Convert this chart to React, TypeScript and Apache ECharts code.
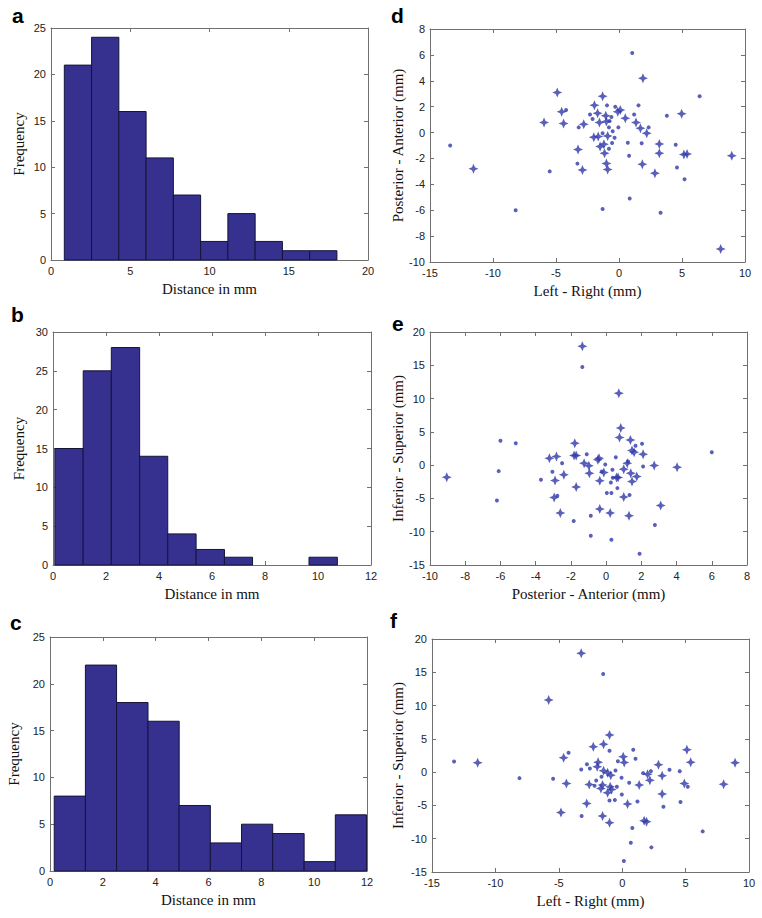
import React, { useEffect, useRef } from "react";
import * as echarts from "echarts";

// ---------- Histogram data ----------
const histA_edges = [0.84, 2.56, 4.28, 6.0, 7.72, 9.44, 11.16, 12.88, 14.6, 16.32, 18.04];
const histA_counts = [21, 24, 16, 11, 7, 2, 5, 2, 1, 1];

const histB_edges = [0.07, 1.14, 2.2, 3.27, 4.33, 5.4, 6.47, 7.53, 8.6, 9.66, 10.73];
const histB_counts = [15, 25, 28, 14, 4, 2, 1, 0, 0, 1];

const histC_edges = [0.16, 1.34, 2.52, 3.71, 4.89, 6.07, 7.25, 8.43, 9.62, 10.8, 11.98];
const histC_counts = [8, 22, 18, 16, 7, 3, 5, 4, 1, 6];

// ---------- Scatter data ----------
// d: Left - Right (x) vs Posterior - Anterior (y)
const scatD_stars = [
  [-4.9, 3.1], [-1.3, 2.8], [1.9, 4.2], [-5.95, 0.78], [-4.55, 1.6], [-4.4, 0.7],
  [-1.95, 2.1], [-1.7, 1.5], [-1.05, 1.3], [-1.55, 0.78], [-1.0, 0.85], [-0.1, 1.6],
  [0.1, 1.75], [0.5, 1.1], [1.35, 0.78], [1.7, 0.34], [2.2, -0.05], [-0.9, -0.26],
  [-2.0, -0.36], [-1.65, -0.3], [-1.5, -1.08], [-1.2, -0.9], [-1.15, -1.6], [-3.25, -1.3],
  [-1.0, -2.4], [-0.9, -2.85], [-2.9, -2.9], [-11.55, -2.8], [3.2, -0.88], [3.2, -1.6],
  [1.85, -2.45], [2.85, -3.15], [4.97, 1.45], [5.15, -1.7], [5.4, -1.65], [8.95, -1.8],
  [8.07, -9.0], [-2.8, 0.65],
];
const scatD_dots = [
  [-13.4, -1.0], [-8.2, -6.0], [-5.5, -3.0], [-3.3, -2.4], [-3.2, 0.4], [-4.2, 1.75],
  [-2.3, 1.4], [-2.1, 1.05], [-0.95, 2.1], [-0.3, 2.0], [-0.6, 1.2], [-0.8, 0.4],
  [-0.5, 0.1], [-0.35, -0.4], [-0.55, -0.8], [-0.8, -1.25], [-0.05, 0.4], [0.7, -0.78],
  [1.55, 2.1], [1.2, 1.4], [2.35, 0.4], [1.8, -0.83], [0.8, -1.8], [1.05, 6.15],
  [3.8, 1.3], [6.4, 2.8], [4.5, -0.95], [4.6, -2.7], [5.2, -3.6], [0.85, -5.1],
  [-1.3, -5.9], [3.3, -6.2], [-1.3, -0.05], [-0.75, 0.9],
];

// e: Posterior - Anterior (x) vs Inferior - Superior (y)
const scatE_stars = [
  [-1.35, 17.85], [0.72, 10.8], [0.83, 5.57], [0.76, 4.16], [1.38, 3.76], [-1.78, 3.3],
  [-9.05, -1.8], [-3.22, 1.05], [-2.82, 1.3], [-1.82, 1.45], [-1.7, 1.45], [-1.25, 0.3],
  [-0.98, -0.1], [-0.95, -1.2], [-0.47, 0.8], [-0.4, 1.05], [-2.9, -2.3], [-2.4, -1.45],
  [-2.95, -4.85], [-2.6, -7.2], [-1.7, -3.3], [-0.36, -2.35], [-0.13, -1.1], [-0.36, -6.6],
  [0.23, -7.2], [0.59, -1.85], [0.68, -1.85], [1.0, -0.6], [1.2, 0.3], [1.47, 2.2],
  [1.59, 1.95], [2.1, 1.65], [1.4, -1.2], [1.47, -2.45], [1.74, -1.7], [1.0, -4.8],
  [1.3, -7.6], [2.73, -0.05], [4.03, -0.3], [3.1, -6.05],
];
const scatE_dots = [
  [-6.2, -5.3], [-6.1, -0.9], [-6.0, 3.65], [-5.13, 3.3], [-3.7, -2.2], [-3.05, -1.0],
  [-2.5, 0.3], [-2.77, -4.6], [-1.84, -8.4], [-1.35, 14.75], [-1.1, 1.65], [-0.87, -7.6],
  [-0.87, -10.6], [-0.05, 0.1], [0.04, -4.2], [0.27, -2.6], [0.3, -4.2], [0.3, -11.2],
  [0.36, -0.7], [0.55, 1.2], [0.64, -3.45], [1.25, 0.55], [1.33, -4.5], [1.67, 2.9],
  [2.04, 3.2], [2.1, -0.2], [1.9, -13.3], [2.77, -9.0], [6.0, 1.95], [-0.25, -0.95],
  [0.38, -1.9],
];

// f: Left - Right (x) vs Inferior - Superior (y)
const scatF_stars = [
  [-3.23, 17.85], [-5.8, 10.83], [-1.0, 5.57], [-2.28, 3.8], [-1.47, 4.2], [-4.62, 2.15],
  [-11.4, 1.4], [-1.9, 1.5], [-1.97, 0.8], [-1.47, 0.2], [-1.15, -0.1], [-0.9, -0.45],
  [-4.4, -1.7], [-2.6, -1.85], [-1.55, -1.95], [-1.68, -2.45], [-0.95, -2.2], [-0.84, -2.6],
  [-1.15, -3.1], [0.08, 2.3], [0.16, 1.45], [-2.8, -4.7], [-4.83, -6.07], [-1.55, -6.6],
  [-1.0, -7.6], [0.42, -4.8], [1.34, -1.95], [1.73, -7.3], [1.92, -7.45], [2.18, -1.2],
  [2.0, -0.3], [2.86, 1.1], [3.15, -0.55], [3.15, -3.3], [5.1, 3.35], [5.4, 1.5],
  [4.9, -1.7], [8.0, -1.8], [8.9, 1.4],
];
const scatF_dots = [
  [-13.26, 1.6], [-8.1, -0.9], [-5.45, -1.0], [-4.23, 2.9], [-3.23, 0.4], [-3.2, -6.6],
  [-2.78, 1.2], [-2.55, 0.55], [-2.18, -2.05], [-2.05, -1.25], [-1.63, -0.7], [-1.0, 3.2],
  [-1.0, -4.25], [-0.58, -4.2], [-1.5, 14.75], [-0.53, 0.25], [-0.42, -2.2], [-0.34, 1.65],
  [-0.05, -0.85], [-0.03, -3.35], [0.55, -1.6], [0.87, 3.35], [1.05, 2.0], [1.2, -4.4],
  [0.8, -8.4], [0.68, -10.6], [0.13, -13.35], [1.65, -0.15], [2.26, 0.15], [2.3, -11.3],
  [3.25, -5.2], [3.73, 0.35], [4.54, 0.15], [4.6, -4.5], [5.17, -2.2], [6.35, -8.9],
];

// ---------- Styles ----------
const BAR_FILL = "#36318f";
const BAR_STROKE = "#15143a";
const PT_COLOR = "#2f38a8";
const FRAME = "#707070";
const SERIF = "'Liberation Serif', 'Times New Roman', serif";
const SANS = "'Liberation Sans', Arial, sans-serif";
const STAR = "path://M0,-10 L3,-3 L10,0 L3,3 L0,10 L-3,3 L-10,0 L-3,-3 Z";

type Panel = {
  letter: string;
  grid: { left: number; top: number; width: number; height: number };
  x: { min: number; max: number; interval: number; name: string; gap: number };
  y: { min: number; max: number; interval: number; name: string; gap: number };
  letterPos: [number, number];
};

const panels: Panel[] = [
  {
    letter: "a",
    grid: { left: 51, top: 28, width: 317, height: 232 },
    x: { min: 0, max: 20, interval: 5, name: "Distance in mm", gap: 21 },
    y: { min: 0, max: 25, interval: 5, name: "Frequency", gap: 25 },
    letterPos: [12, 5],
  },
  {
    letter: "d",
    grid: { left: 430, top: 29, width: 315, height: 233 },
    x: { min: -15, max: 10, interval: 5, name: "Left - Right (mm)", gap: 21 },
    y: { min: -10, max: 8, interval: 2, name: "Posterior - Anterior (mm)", gap: 23 },
    letterPos: [391, 5],
  },
  {
    letter: "b",
    grid: { left: 53, top: 332, width: 318, height: 233 },
    x: { min: 0, max: 12, interval: 2, name: "Distance in mm", gap: 21 },
    y: { min: 0, max: 30, interval: 5, name: "Frequency", gap: 27 },
    letterPos: [11, 304],
  },
  {
    letter: "e",
    grid: { left: 430, top: 332, width: 317, height: 233 },
    x: { min: -10, max: 8, interval: 2, name: "Posterior - Anterior (mm)", gap: 21 },
    y: { min: -15, max: 20, interval: 5, name: "Inferior - Superior (mm)", gap: 25 },
    letterPos: [392, 313],
  },
  {
    letter: "c",
    grid: { left: 50, top: 637, width: 317, height: 234 },
    x: { min: 0, max: 12, interval: 2, name: "Distance in mm", gap: 21 },
    y: { min: 0, max: 25, interval: 5, name: "Frequency", gap: 29 },
    letterPos: [10, 612],
  },
  {
    letter: "f",
    grid: { left: 432, top: 639, width: 317, height: 233 },
    x: { min: -15, max: 10, interval: 5, name: "Left - Right (mm)", gap: 21 },
    y: { min: -15, max: 20, interval: 5, name: "Inferior - Superior (mm)", gap: 27 },
    letterPos: [390, 610],
  },
];

function histData(edges: number[], counts: number[]) {
  return counts.map((c, i) => [edges[i], edges[i + 1], c]);
}

export default function App() {
  const ref = useRef<HTMLDivElement>(null);

  useEffect(() => {
    if (!ref.current) return;
    const chart = echarts.init(ref.current, undefined, { renderer: "svg" });

    const grids: any[] = [];
    const xAxes: any[] = [];
    const yAxes: any[] = [];
    const graphics: any[] = [];

    panels.forEach((p, i) => {
      grids.push({ ...p.grid, containLabel: false });
      const common = {
        axisLine: { show: true, onZero: false, lineStyle: { color: FRAME, width: 1 } },
        axisTick: { show: true, inside: true, length: 4, lineStyle: { color: FRAME } },
        splitLine: { show: false },
      };
      xAxes.push({
        type: "value",
        gridIndex: i,
        position: "bottom",
        min: p.x.min,
        max: p.x.max,
        interval: p.x.interval,
        name: p.x.name,
        nameLocation: "middle",
        nameGap: p.x.gap,
        nameTextStyle: { fontFamily: SERIF, fontSize: 15, color: "#111" },
        axisLabel: { fontFamily: SANS, fontSize: 11, color: "#222", margin: 5 },
        ...common,
      });
      xAxes.push({
        type: "value",
        gridIndex: i,
        position: "top",
        min: p.x.min,
        max: p.x.max,
        interval: p.x.interval,
        axisLabel: { show: false },
        ...common,
      });
      yAxes.push({
        type: "value",
        gridIndex: i,
        position: "left",
        min: p.y.min,
        max: p.y.max,
        interval: p.y.interval,
        name: p.y.name,
        nameLocation: "middle",
        nameGap: p.y.gap,
        nameTextStyle: { fontFamily: SERIF, fontSize: 15, color: "#111" },
        axisLabel: { fontFamily: SANS, fontSize: 11, color: "#222", margin: 5 },
        ...common,
      });
      yAxes.push({
        type: "value",
        gridIndex: i,
        position: "right",
        min: p.y.min,
        max: p.y.max,
        interval: p.y.interval,
        axisLabel: { show: false },
        ...common,
      });
      graphics.push({
        type: "text",
        left: p.letterPos[0],
        top: p.letterPos[1],
        style: {
          text: p.letter,
          font: `bold 21px ${SANS}`,
          fill: "#000",
        },
      });
    });

    const histSeries = (data: number[][], idx: number) => ({
      type: "custom",
      xAxisIndex: idx * 2,
      yAxisIndex: idx * 2,
      encode: { x: [0, 1], y: 2 },
      data,
      renderItem: (params: any, api: any) => {
        if (!api.value(2)) return null;
        const s = api.coord([api.value(0), api.value(2)]);
        const e = api.coord([api.value(1), 0]);
        return {
          type: "rect",
          shape: { x: s[0], y: s[1], width: e[0] - s[0], height: e[1] - s[1] },
          style: { fill: BAR_FILL, stroke: BAR_STROKE, lineWidth: 1 },
        };
      },
    });

    const dotSeries = (data: number[][], idx: number) => ({
      type: "scatter",
      xAxisIndex: idx * 2,
      yAxisIndex: idx * 2,
      data,
      symbol: "circle",
      symbolSize: 4,
      itemStyle: { color: PT_COLOR },
    });
    const starSeries = (data: number[][], idx: number) => ({
      type: "scatter",
      xAxisIndex: idx * 2,
      yAxisIndex: idx * 2,
      data,
      symbol: STAR,
      symbolSize: 10,
      itemStyle: { color: PT_COLOR },
    });

    chart.setOption({
      animation: false,
      backgroundColor: "#fff",
      grid: grids,
      xAxis: xAxes,
      yAxis: yAxes,
      graphic: graphics,
      series: [
        histSeries(histData(histA_edges, histA_counts), 0),
        starSeries(scatD_stars, 1),
        dotSeries(scatD_dots, 1),
        histSeries(histData(histB_edges, histB_counts), 2),
        starSeries(scatE_stars, 3),
        dotSeries(scatE_dots, 3),
        histSeries(histData(histC_edges, histC_counts), 4),
        starSeries(scatF_stars, 5),
        dotSeries(scatF_dots, 5),
      ],
    });

    return () => chart.dispose();
  }, []);

  return (
    <div
      ref={ref}
      style={{ position: "absolute", left: 0, top: 0, width: 762, height: 918, background: "#fff" }}
    />
  );
}
